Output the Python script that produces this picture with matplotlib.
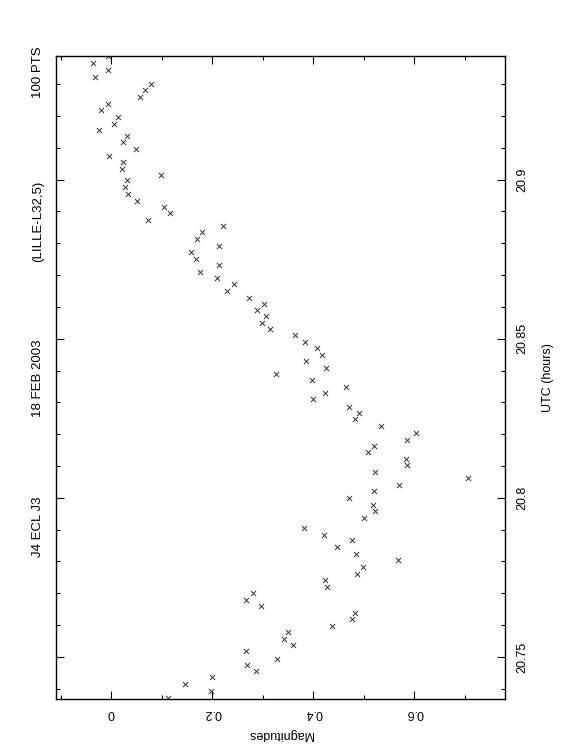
import numpy as np
import matplotlib
matplotlib.use("Agg")
import matplotlib.pyplot as plt
from matplotlib.ticker import FixedLocator, MultipleLocator

# Lichtkurve J4 ECL J3, 18 FEB 2003 (Lille, T32,5) - Seite im Querformat gedreht
utc = [20.9387, 20.9366, 20.9345, 20.9323, 20.9301, 20.9280, 20.9259, 20.9238,
       20.9217, 20.9195, 20.9176, 20.9157, 20.9137, 20.9117, 20.9095, 20.9075,
       20.9056, 20.9034, 20.9015, 20.8997, 20.8976, 20.8956, 20.8934, 20.8914,
       20.8896, 20.8874, 20.8853, 20.8834, 20.8812, 20.8792, 20.8773, 20.8751,
       20.8731, 20.8709, 20.8690, 20.8671, 20.8649, 20.8629, 20.8610, 20.8591,
       20.8571, 20.8548, 20.8529, 20.8511, 20.8491, 20.8471, 20.8450, 20.8430,
       20.8408, 20.8388, 20.8369, 20.8347, 20.8328, 20.8309, 20.8286, 20.8266,
       20.8248, 20.8225, 20.8205, 20.8183, 20.8164, 20.8144, 20.8122, 20.8104,
       20.8081, 20.8061, 20.8039, 20.8020, 20.7998, 20.7978, 20.7959, 20.7937,
       20.7906, 20.7884, 20.7866, 20.7845, 20.7822, 20.7804, 20.7782, 20.7762,
       20.7742, 20.7720, 20.7700, 20.7678, 20.7660, 20.7637, 20.7618, 20.7598,
       20.7578, 20.7556, 20.7537, 20.7518, 20.7495, 20.7476, 20.7457, 20.7436,
       20.7415, 20.7393, 20.7370]
mag = [-0.006, -0.036, -0.007, -0.032, 0.079, 0.066, 0.057, -0.007,
       -0.020, 0.013, 0.005, -0.024, 0.032, 0.024, 0.048, -0.005,
       0.023, 0.022, 0.098, 0.032, 0.027, 0.034, 0.050, 0.105,
       0.117, 0.073, 0.222, 0.180, 0.169, 0.213, 0.158, 0.168,
       0.213, 0.176, 0.210, 0.243, 0.230, 0.273, 0.303, 0.288,
       0.307, 0.299, 0.315, 0.364, 0.384, 0.408, 0.418, 0.386,
       0.426, 0.327, 0.398, 0.465, 0.424, 0.399, 0.471, 0.491,
       0.482, 0.534, 0.603, 0.586, 0.521, 0.509, 0.584, 0.586,
       0.523, 0.706, 0.569, 0.521, 0.471, 0.518, 0.523, 0.501,
       0.381, 0.421, 0.477, 0.447, 0.485, 0.567, 0.499, 0.486,
       0.424, 0.427, 0.281, 0.266, 0.297, 0.482, 0.477, 0.436,
       0.349, 0.341, 0.359, 0.266, 0.328, 0.269, 0.287, 0.200,
       0.145, 0.198, 0.113]

mag_ticks = [0, 0.2, 0.4, 0.6]
mag_labels = ["0", "0.2", "0.4", "0.6"]
utc_ticks = [20.75, 20.8, 20.85, 20.9]
utc_labels = ["20.75", "20.8", "20.85", "20.9"]
titel = ["J4 ECL J3", "18 FEB 2003", "(LILLE-L32,5)", "100 PTS"]

plt.rcParams['font.family'] = ['Liberation Sans', 'DejaVu Sans']
fig = plt.figure(figsize=(5.62, 7.56), dpi=100)
ax = fig.add_axes([0.0996, 0.0754, 0.7995, 0.8505])

ax.scatter(mag, utc, marker='x', s=14, c='#333333', linewidths=0.7)

ax.set_xlim(-0.1095, 0.780)
ax.set_ylim(20.7368, 20.9388)

# Achsen: Magnituden unten (Text auf dem Kopf), UTC rechts (gedreht)
ax.xaxis.set_major_locator(FixedLocator(mag_ticks))
ax.xaxis.set_minor_locator(MultipleLocator(0.1))
ax.set_xticklabels(mag_labels, rotation=180)
ax.yaxis.set_major_locator(FixedLocator(utc_ticks))
ax.yaxis.set_minor_locator(MultipleLocator(0.01))
ax.set_yticklabels(utc_labels, rotation=90, va='center')
ax.yaxis.set_label_position('right')

ax.tick_params(which='both', direction='in', top=True, bottom=True, left=True, right=True,
               labelleft=False, labelright=True, labelsize=9, width=0.8)
ax.tick_params(which='major', length=6)
ax.tick_params(which='minor', length=3)
ax.tick_params(axis='x', pad=6)
ax.tick_params(axis='y', pad=8)
for s in ax.spines.values():
    s.set_linewidth(1.0)

ax.set_xlabel("Magnitudes", rotation=180, fontsize=9, labelpad=6)
ax.set_ylabel("UTC (hours)", rotation=90, fontsize=9, labelpad=10)

# Titelzeile links, von unten nach oben lesbar
y_pos = [0.303, 0.500, 0.707, 0.905]
for t, yp in zip(titel, y_pos):
    fig.text(0.068, yp, t, rotation=90, ha='center', va='center', fontsize=9.5)

fig.savefig("out.png", dpi=100)
